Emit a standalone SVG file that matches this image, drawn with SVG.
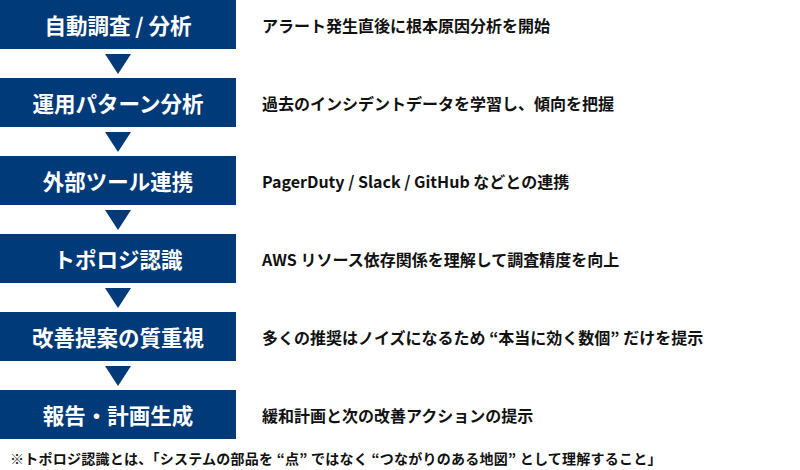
<svg xmlns="http://www.w3.org/2000/svg" width="800" height="470" viewBox="0 0 800 470">
<style>
.box{fill:#003a78}
.bt{font-family:"Noto Sans CJK JP","Noto Sans",sans-serif;font-weight:bold;font-size:21.5px;fill:#fff;text-anchor:middle;dominant-baseline:central}
.dt{font-family:"Noto Sans CJK JP","Noto Sans",sans-serif;font-weight:bold;font-size:16px;fill:#111;dominant-baseline:central}
.fn{font-family:"Noto Sans CJK JP","Noto Sans",sans-serif;font-weight:bold;font-size:14px;fill:#111;letter-spacing:0.25px}
.arr{fill:#003a78}
</style>
<rect width="800" height="470" fill="#fff"/>
<g id="node1"><rect class="box" x="0" y="0" width="236" height="49"/><text class="bt" x="118" y="24.5">自動調査 / 分析</text><text class="dt" x="262" y="24.5">アラート発生直後に根本原因分析を開始</text></g>
<g id="node2"><rect class="box" x="0" y="78" width="236" height="49"/><text class="bt" x="118" y="102.5">運用パターン分析</text><text class="dt" x="262" y="102.5">過去のインシデントデータを学習し、傾向を把握</text></g>
<g id="node3"><rect class="box" x="0" y="156" width="236" height="49"/><text class="bt" x="118" y="180.5">外部ツール連携</text><text class="dt" x="262" y="180.5">PagerDuty / Slack / GitHub などとの連携</text></g>
<g id="node4"><rect class="box" x="0" y="234" width="236" height="49"/><text class="bt" x="118" y="258.5">トポロジ認識</text><text class="dt" x="262" y="258.5">AWS リソース依存関係を理解して調査精度を向上</text></g>
<g id="node5"><rect class="box" x="0" y="312" width="236" height="49"/><text class="bt" x="118" y="336.5">改善提案の質重視</text><text class="dt" x="262" y="336.5">多くの推奨はノイズになるため “本当に効く数個” だけを提示</text></g>
<g id="node6"><rect class="box" x="0" y="390" width="236" height="49"/><text class="bt" x="118" y="414.5">報告・計画生成</text><text class="dt" x="262" y="414.5">緩和計画と次の改善アクションの提示</text></g>
<g id="connectors">
<polygon class="arr" points="105,54 131,54 118,74"/>
<polygon class="arr" points="105,132 131,132 118,152"/>
<polygon class="arr" points="105,210 131,210 118,230"/>
<polygon class="arr" points="105,288 131,288 118,308"/>
<polygon class="arr" points="105,366 131,366 118,386"/>
</g>
<text class="fn" x="10" y="464">※トポロジ認識とは、「システムの部品を “点” ではなく “つながりのある地図” として理解すること」</text>
</svg>
